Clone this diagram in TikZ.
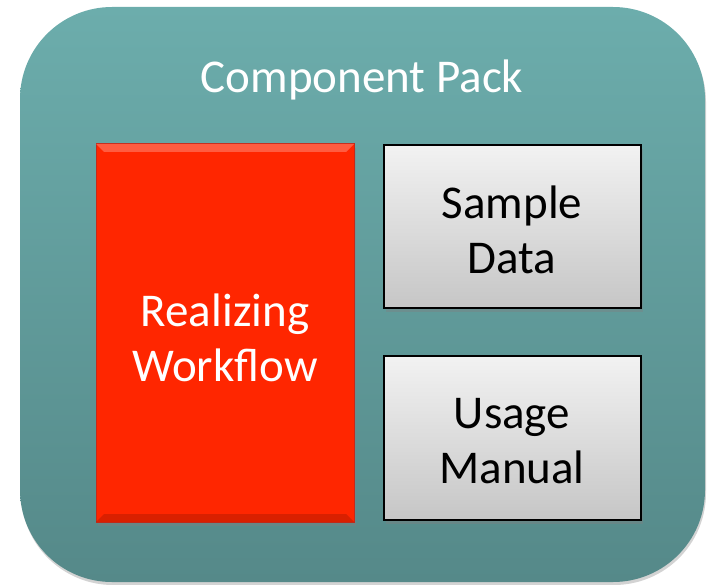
\documentclass[tikz,border=0pt]{standalone}
\usepackage{fontspec}
\setmainfont{Carlito}
\usetikzlibrary{shadows}
\definecolor{tealtop}{HTML}{6CADAC}
\definecolor{tealbot}{HTML}{558989}
\definecolor{redfill}{HTML}{FF2600}
\definecolor{rededge}{HTML}{C42A1A}
\definecolor{greytop}{HTML}{F2F2F2}
\definecolor{greybot}{HTML}{C6C6C6}
\tikzset{
  pack/.style={rounded corners=92pt, top color=tealtop, bottom color=tealbot,
    draw=none, drop shadow={shadow xshift=1pt, shadow yshift=-3pt, opacity=0.35}},
  flowbox/.style={fill=redfill, draw=rededge, line width=1pt,
    drop shadow={shadow xshift=2pt, shadow yshift=-4pt, opacity=0.4}},
  infobox/.style={top color=greytop, bottom color=greybot, draw=black, line width=1.6pt,
    drop shadow={shadow xshift=2pt, shadow yshift=-4pt, opacity=0.4}},
  label/.style={font=\fontsize{47}{55}\selectfont, align=center, inner sep=0pt}
}
\begin{document}
\begin{tikzpicture}[x=1pt, y=-1pt]
  \useasboundingbox (0,0) rectangle (708,585);
  % outer container
  \path[pack] (20,7) rectangle (705,582);
  \node[label, text=white] (title) at (362,80) {Component Pack};
  % workflow block
  \path[flowbox] (96,144) rectangle (354,522);
  \fill[white, opacity=0.25] (96,144) -- (354,144) -- (346,152) -- (104,152) -- cycle;
  \fill[black, opacity=0.15] (96,522) -- (354,522) -- (346,514) -- (104,514) -- cycle;
  \node[label, text=white] (flow) at (225,338) {Realizing\\Workflow};
  % side blocks
  \path[infobox] (384,145) rectangle (641,308);
  \node[label] (data) at (512,230) {Sample\\Data};
  \path[infobox] (384,356) rectangle (641,520);
  \node[label] (manual) at (512,441) {Usage\\Manual};
\end{tikzpicture}
\end{document}
